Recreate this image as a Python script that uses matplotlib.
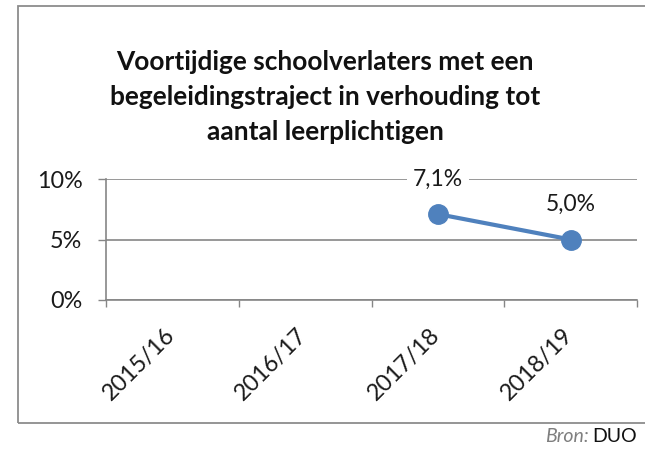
import matplotlib
matplotlib.use("Agg")
import matplotlib.pyplot as plt
from matplotlib.patches import Rectangle
import numpy as np

categories = ["2015/16", "2016/17", "2017/18", "2018/19"]
values = [None, None, 0.071, 0.050]
value_labels = ["", "", "7,1%", "5,0%"]
yticks = [0.0, 0.05, 0.10]
ytick_labels = ["0%", "5%", "10%"]
title = "Voortijdige schoolverlaters met een\nbegeleidingstraject in verhouding tot\naantal leerplichtigen"

W, H = 645, 449
fig = plt.figure(figsize=(W / 100, H / 100), dpi=100)
fig.patch.set_facecolor("white")
font = ["Lato", "DejaVu Sans"]
grey = "#868686"

# outer frame (right edge runs off the canvas)
fig.add_artist(Rectangle((18 / W, 1 - 423 / H), 700 / W, (423 - 6) / H,
                         transform=fig.transFigure, fill=False,
                         edgecolor="#8c8c8c", linewidth=1.3))

ax = fig.add_axes([106 / W, 1 - 300 / H, (637 - 106) / W, (300 - 179) / H])
x = np.arange(len(categories))
xs = [xi for xi, v in zip(x, values) if v is not None]
ys = [v for v in values if v is not None]
ax.plot(xs, ys, color="#4F81BD", linewidth=3, marker="o", markersize=14,
        zorder=5, clip_on=False)
for xi, v, lab in zip(x, values, value_labels):
    if v is None:
        continue
    ax.annotate(lab, (xi, v), xytext=(0, 25), textcoords="offset points",
                ha="center", va="center", fontsize=16.5, family=font,
                color="#1a1a1a", zorder=6,
                bbox=dict(boxstyle="square,pad=0.25", fc="white", ec="none"))

ax.set_xlim(-0.5, len(categories) - 0.5)
ax.set_ylim(0, 0.10)
ax.set_yticks(yticks)
ax.set_yticklabels(ytick_labels, family=font, fontsize=16.8, color="#1a1a1a")
ax.tick_params(axis="y", length=6, color=grey, width=1, pad=11)
ax.set_xticks(np.arange(len(categories) + 1) - 0.5, minor=True)
ax.set_xticks(x)
ax.set_xticklabels([])
ax.tick_params(axis="x", which="major", length=0)
ax.tick_params(axis="x", which="minor", length=5, color=grey, width=1)
for xi, lab in zip(x, categories):
    ax.text(xi - 0.01, -0.026, lab, rotation=45, rotation_mode="anchor",
            ha="right", va="center", family=font, fontsize=16.8,
            color="#1a1a1a", transform=ax.transData, clip_on=False)
ax.grid(axis="y", color=grey, linewidth=1.2)
ax.set_axisbelow(True)
for s in ["top", "right"]:
    ax.spines[s].set_visible(False)
ax.spines["left"].set_color(grey)
ax.spines["bottom"].set_color(grey)
ax.spines["left"].set_linewidth(1.2)
ax.spines["bottom"].set_linewidth(1.2)

fig.text(325 / W, 1 - 97 / H, title, ha="center", va="center",
         fontsize=18.9, fontweight="bold", family=font, linespacing=1.56,
         color="#111111")

fig.text(589 / W, 1 - 437 / H, "Bron:", ha="right", va="center",
         fontsize=14, style="italic", family=font, color="#7f7f7f")
fig.text(637 / W, 1 - 437 / H, "DUO", ha="right", va="center",
         fontsize=14, family=font, color="#111111")

fig.savefig("out.png", dpi=100)
